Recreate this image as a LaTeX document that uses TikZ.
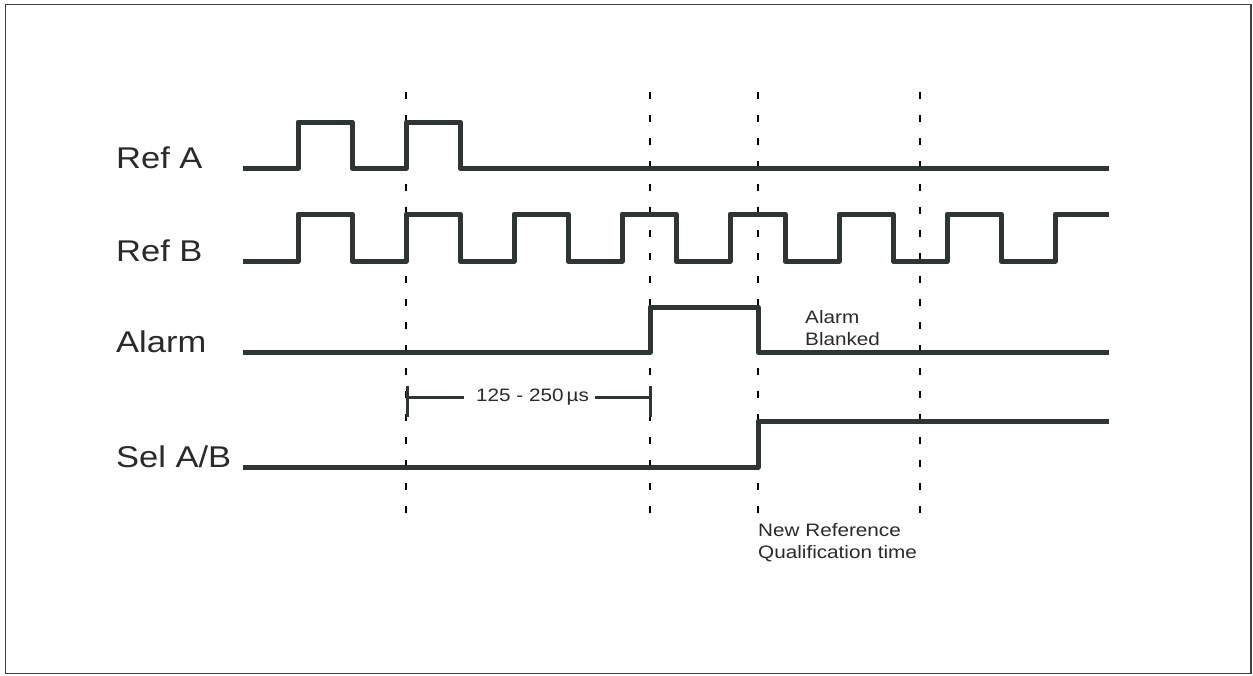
\documentclass[tikz,border=0pt]{standalone}
\usepackage{fontspec}
\newfontfamily\lab[FakeStretch=1.15]{Liberation Sans}
\begin{document}
\begin{tikzpicture}[x=1pt,y=-1pt,
  wave/.style={line width=5pt,color=wavecol,line join=round,line cap=butt},
  guide/.style={line width=2.2pt,black,dash pattern=on 7pt off 16pt},
  measbar/.style={line width=3pt,draw=wavecol},
  biglab/.style={anchor=base west,inner sep=0pt,text=txtcol,font=\lab\fontsize{30}{34}\selectfont},
  smalllab/.style={anchor=base west,inner sep=0pt,text=txtcol,font=\lab\fontsize{18}{21}\selectfont}]
\definecolor{wavecol}{HTML}{2F3434}
\definecolor{txtcol}{HTML}{2A2A2A}
\useasboundingbox (0,0) rectangle (1253,675);
\fill[white] (0,0) rectangle (1253,675);
\draw[line width=1.4pt,black!75] (5.5,4.5) rectangle (1251,673.5);
% guides
\foreach \gx/\gn in {406/g1,650/g2,758/g3,920/g4}{
  \coordinate (\gn t) at (\gx,92);
  \coordinate (\gn b) at (\gx,515);
  \draw[guide] (\gn t) -- (\gn b);
}
% labels
\node[biglab] (la) at (116,168) {Ref A};
\node[biglab] (lb) at (116,261) {Ref B};
\node[biglab] (lc) at (116,352) {Alarm};
\node[biglab] (ld) at (116,467) {Sel A/B};
% Ref A
\draw[wave] (243,168) -- (298,168) -- (298,122) -- (352,122) -- (352,168) -- (406,168) -- (406,122) -- (460,122) -- (460,168) -- (1109,168);
% Ref B
\draw[wave] (243,261)
  -- (298,261) -- (298,214) -- (352,214) -- (352,261)
  -- (406,261) -- (406,214) -- (460,214) -- (460,261)
  -- (514,261) -- (514,214) -- (568,214) -- (568,261)
  -- (622,261) -- (622,214) -- (676,214) -- (676,261)
  -- (730,261) -- (730,214) -- (785,214) -- (785,261)
  -- (839,261) -- (839,214) -- (893,214) -- (893,261)
  -- (947,261) -- (947,214) -- (1001,214) -- (1001,261)
  -- (1055,261) -- (1055,214) -- (1109,214);
% Alarm
\draw[wave] (243,352) -- (650,352) -- (650,307) -- (758,307) -- (758,352) -- (1109,352);
% Sel A/B
\draw[wave] (243,467) -- (758,467) -- (758,421) -- (1109,421);
% measurement
\coordinate (mlt) at (407,386); \coordinate (mlb) at (407,417);
\coordinate (mrt) at (650,386); \coordinate (mrb) at (650,417);
\coordinate (ml) at (407,397); \coordinate (mr) at (650,397);
\draw[measbar] (mlt) -- (mlb);
\draw[measbar] (mrt) -- (mrb);
\node[inner sep=0pt,text=txtcol,font=\lab\fontsize{18}{21}\selectfont,anchor=west] (meas) at (476,397) {125 - 250\,µs};
\draw[measbar] (ml) -- ([xshift=-12pt]meas.west);
\draw[measbar] ([xshift=6pt]meas.east) -- (mr);
% annotations
\node[smalllab] (ab1) at (805,323) {Alarm};
\node[smalllab] (ab2) at (805,345) {Blanked};
\node[smalllab] (nr1) at (758,536) {New Reference};
\node[smalllab] (nr2) at (758,558) {Qualification time};
\end{tikzpicture}
\end{document}
